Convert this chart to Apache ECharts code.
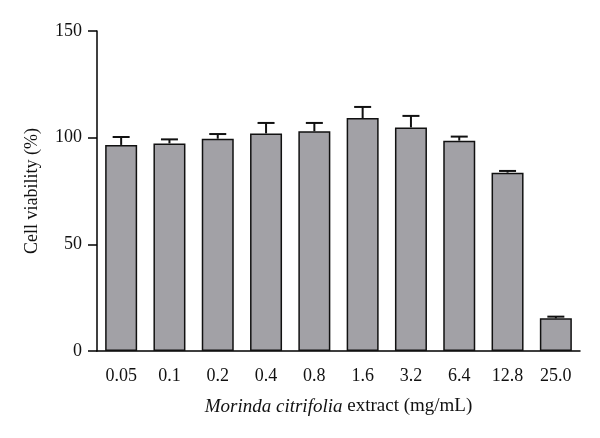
<!DOCTYPE html>
<html>
<head>
<meta charset="utf-8">
<script src="https://cdn.jsdelivr.net/npm/echarts@6/dist/echarts.min.js"></script>
<style>html,body{margin:0;padding:0;background:#fff;}#c{width:600px;height:438px;}</style>
</head>
<body>
<div id="c"></div>
<script>
var categories = ['0.05','0.1','0.2','0.4','0.8','1.6','3.2','6.4','12.8','25.0'];
var viability = [96.6, 97.3, 99.5, 102.0, 103.0, 109.2, 104.8, 98.6, 83.6, 15.3];
var errorTop = [100.3, 99.2, 101.7, 106.9, 106.9, 114.4, 110.2, 100.5, 84.4, 16.1];
var yTicks = [0, 50, 100, 150];

var font = '"Liberation Serif", "DejaVu Serif", serif';
var chart = echarts.init(document.getElementById('c'));
chart.setOption({
  animation: false,
  backgroundColor: '#fff',
  grid: {left: 97, right: 20, top: 31, bottom: 87},
  xAxis: {
    type: 'category',
    data: categories,
    boundaryGap: true,
    axisLine: {lineStyle: {color: '#000', width: 1.5}},
    axisTick: {alignWithLabel: true, length: 8, lineStyle: {color: '#000', width: 1.5}},
    axisLabel: {color: '#111', fontFamily: font, fontSize: 18, margin: 16},
    name: '{i|Morinda citrifolia} extract (mg/mL)',
    nameLocation: 'middle',
    nameGap: 46,
    nameTextStyle: {
      color: '#111', fontFamily: font, fontSize: 19,
      rich: {i: {fontStyle: 'italic', fontFamily: font, fontSize: 19, color: '#111'}}
    }
  },
  yAxis: {
    type: 'value',
    min: 0, max: 150, interval: 50,
    axisLine: {show: true, lineStyle: {color: '#000', width: 1.5}},
    axisTick: {show: true, length: 9, lineStyle: {color: '#000', width: 1.5}},
    splitLine: {show: false},
    axisLabel: {color: '#111', fontFamily: font, fontSize: 18, margin: 15,
      formatter: function (v) { return yTicks.indexOf(v) >= 0 ? String(v) : ''; }},
    name: 'Cell viability (%)',
    nameLocation: 'middle',
    nameGap: 56,
    nameTextStyle: {color: '#111', fontFamily: font, fontSize: 18}
  },
  series: [
    {
      type: 'bar',
      data: viability,
      barWidth: 32,
      itemStyle: {color: '#a2a1a6', borderColor: '#111', borderWidth: 1.5},
      z: 2
    },
    {
      type: 'custom',
      z: 3,
      data: viability.map(function (v, i) { return [i, v, errorTop[i]]; }),
      renderItem: function (params, api) {
        var base = api.coord([api.value(0), api.value(1)]);
        var top = api.coord([api.value(0), api.value(2)]);
        var hw = 8.5;
        var style = {stroke: '#111', lineWidth: 2, fill: null};
        return {
          type: 'group',
          children: [
            {type: 'line', shape: {x1: base[0], y1: base[1], x2: top[0], y2: top[1]}, style: style},
            {type: 'line', shape: {x1: top[0] - hw, y1: top[1], x2: top[0] + hw, y2: top[1]}, style: style}
          ]
        };
      }
    }
  ]
});
</script>
</body>
</html>
